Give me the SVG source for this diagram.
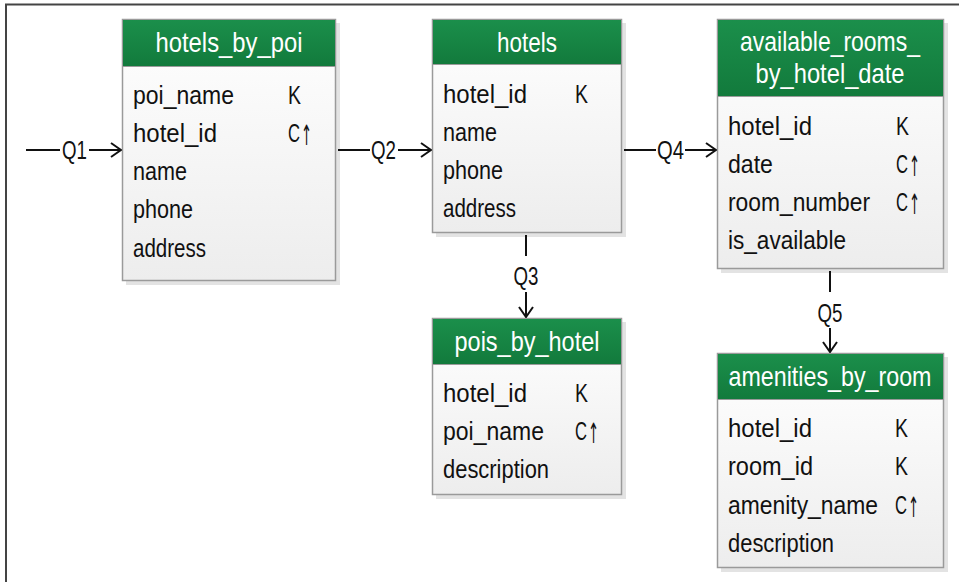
<svg xmlns="http://www.w3.org/2000/svg" width="959" height="582" viewBox="0 0 959 582">
<defs>
<linearGradient id="hdr" x1="0" y1="0" x2="0" y2="1"><stop offset="0" stop-color="#1b8f4b"/><stop offset="1" stop-color="#127a3c"/></linearGradient>
<linearGradient id="bdy" x1="0" y1="0" x2="0" y2="1"><stop offset="0" stop-color="#ffffff"/><stop offset="1" stop-color="#ededed"/></linearGradient>
<marker id="arr" viewBox="0 0 12 16" refX="11" refY="8" markerWidth="12" markerHeight="16" markerUnits="userSpaceOnUse" orient="auto"><path d="M1,1 L11,8 L1,15" fill="none" stroke="#111" stroke-width="2"/></marker>
</defs>
<style>
.sh{fill:#e3e3e3}
.bd{fill:url(#bdy);stroke:#9a9a9a;stroke-width:1.5}
.hd{fill:url(#hdr);stroke:#9a9a9a;stroke-width:1}
.tt{font-family:"Liberation Sans",Arial,sans-serif;font-size:27px;fill:#ffffff;text-anchor:middle}
.f{font-family:"Liberation Sans",Arial,sans-serif;font-size:26px;fill:#111}
.up{font-family:"DejaVu Sans","Liberation Sans",sans-serif;font-size:28px;fill:#111}
.q{font-family:"Liberation Sans",Arial,sans-serif;font-size:26px;fill:#111}
.ln{stroke:#111;stroke-width:2;fill:none}
</style>
<path d="M6,582 V4.5 H959" fill="none" stroke="#444" stroke-width="2"/>

<g id="hotels_by_poi">
<rect class="sh" x="126" y="23" width="214" height="262"/>
<rect class="bd" x="122.5" y="19.5" width="213" height="261"/>
<rect class="hd" x="122.5" y="19.5" width="213" height="47"/>
<text class="tt" transform="translate(229,52) scale(.86,1)" textLength="170.9" lengthAdjust="spacingAndGlyphs">hotels_by_poi</text>
<text class="f" transform="translate(133,104) scale(.86,1)" textLength="117.4" lengthAdjust="spacingAndGlyphs">poi_name</text>
<text class="f" transform="translate(133,142) scale(.86,1)" textLength="97.7" lengthAdjust="spacingAndGlyphs">hotel_id</text>
<text class="f" transform="translate(133,180) scale(.86,1)" textLength="62.8" lengthAdjust="spacingAndGlyphs">name</text>
<text class="f" transform="translate(133,218) scale(.86,1)" textLength="69.8" lengthAdjust="spacingAndGlyphs">phone</text>
<text class="f" transform="translate(133,257) scale(.86,1)" textLength="84.9" lengthAdjust="spacingAndGlyphs">address</text>
<text class="f" transform="translate(288,104) scale(.86,1)" textLength="15.1" lengthAdjust="spacingAndGlyphs">K</text>
<text class="f" transform="translate(288,142) scale(.64,1)">C</text>
<text class="up" transform="translate(301,145) scale(.47,1)">↑</text>
</g>

<g id="hotels">
<rect class="sh" x="436" y="23" width="190" height="214"/>
<rect class="bd" x="432.5" y="19.5" width="189" height="213"/>
<rect class="hd" x="432.5" y="19.5" width="189" height="45"/>
<text class="tt" transform="translate(527,52) scale(.86,1)" textLength="69.8" lengthAdjust="spacingAndGlyphs">hotels</text>
<text class="f" transform="translate(443,103) scale(.86,1)" textLength="97.7" lengthAdjust="spacingAndGlyphs">hotel_id</text>
<text class="f" transform="translate(443,141) scale(.86,1)" textLength="62.8" lengthAdjust="spacingAndGlyphs">name</text>
<text class="f" transform="translate(443,179) scale(.86,1)" textLength="69.8" lengthAdjust="spacingAndGlyphs">phone</text>
<text class="f" transform="translate(443,217) scale(.86,1)" textLength="84.9" lengthAdjust="spacingAndGlyphs">address</text>
<text class="f" transform="translate(575,103) scale(.86,1)" textLength="15.1" lengthAdjust="spacingAndGlyphs">K</text>
</g>

<g id="available_rooms_by_hotel_date">
<rect class="sh" x="721" y="23" width="227" height="250"/>
<rect class="bd" x="717.5" y="19.5" width="226" height="249"/>
<rect class="hd" x="717.5" y="19.5" width="226" height="77"/>
<text class="tt" transform="translate(830,51) scale(.86,1)" textLength="209.3" lengthAdjust="spacingAndGlyphs">available_rooms_</text>
<text class="tt" transform="translate(830,83) scale(.86,1)" textLength="173.3" lengthAdjust="spacingAndGlyphs">by_hotel_date</text>
<text class="f" transform="translate(728,135) scale(.86,1)" textLength="97.7" lengthAdjust="spacingAndGlyphs">hotel_id</text>
<text class="f" transform="translate(728,173) scale(.86,1)" textLength="52.3" lengthAdjust="spacingAndGlyphs">date</text>
<text class="f" transform="translate(728,211) scale(.86,1)" textLength="165.1" lengthAdjust="spacingAndGlyphs">room_number</text>
<text class="f" transform="translate(728,249) scale(.86,1)" textLength="137.2" lengthAdjust="spacingAndGlyphs">is_available</text>
<text class="f" transform="translate(896,135) scale(.86,1)" textLength="15.1" lengthAdjust="spacingAndGlyphs">K</text>
<text class="f" transform="translate(896,173) scale(.64,1)">C</text>
<text class="up" transform="translate(909,176) scale(.47,1)">↑</text>
<text class="f" transform="translate(896,211) scale(.64,1)">C</text>
<text class="up" transform="translate(909,214) scale(.47,1)">↑</text>
</g>

<g id="pois_by_hotel">
<rect class="sh" x="436" y="322" width="190" height="177"/>
<rect class="bd" x="432.5" y="318.5" width="189" height="176"/>
<rect class="hd" x="432.5" y="318.5" width="189" height="46"/>
<text class="tt" transform="translate(527,351) scale(.86,1)" textLength="168.6" lengthAdjust="spacingAndGlyphs">pois_by_hotel</text>
<text class="f" transform="translate(443,402) scale(.86,1)" textLength="97.7" lengthAdjust="spacingAndGlyphs">hotel_id</text>
<text class="f" transform="translate(443,440) scale(.86,1)" textLength="117.4" lengthAdjust="spacingAndGlyphs">poi_name</text>
<text class="f" transform="translate(443,478) scale(.86,1)" textLength="123.3" lengthAdjust="spacingAndGlyphs">description</text>
<text class="f" transform="translate(575,402) scale(.86,1)" textLength="15.1" lengthAdjust="spacingAndGlyphs">K</text>
<text class="f" transform="translate(575,440) scale(.64,1)">C</text>
<text class="up" transform="translate(588,443) scale(.47,1)">↑</text>
</g>

<g id="amenities_by_room">
<rect class="sh" x="721" y="357" width="227" height="215"/>
<rect class="bd" x="717.5" y="353.5" width="226" height="214"/>
<rect class="hd" x="717.5" y="353.5" width="226" height="46"/>
<text class="tt" transform="translate(830,386) scale(.86,1)" textLength="236" lengthAdjust="spacingAndGlyphs">amenities_by_room</text>
<text class="f" transform="translate(728,437) scale(.86,1)" textLength="97.7" lengthAdjust="spacingAndGlyphs">hotel_id</text>
<text class="f" transform="translate(728,475) scale(.86,1)" textLength="98.8" lengthAdjust="spacingAndGlyphs">room_id</text>
<text class="f" transform="translate(728,514) scale(.86,1)" textLength="174.4" lengthAdjust="spacingAndGlyphs">amenity_name</text>
<text class="f" transform="translate(728,552) scale(.86,1)" textLength="123.3" lengthAdjust="spacingAndGlyphs">description</text>
<text class="f" transform="translate(895,437) scale(.86,1)" textLength="15.1" lengthAdjust="spacingAndGlyphs">K</text>
<text class="f" transform="translate(895,475) scale(.86,1)" textLength="15.1" lengthAdjust="spacingAndGlyphs">K</text>
<text class="f" transform="translate(895,514) scale(.64,1)">C</text>
<text class="up" transform="translate(908,517) scale(.47,1)">↑</text>
</g>

<g id="connectors">
<line class="ln" x1="26" y1="150" x2="60" y2="150"/>
<text class="q" transform="translate(62,159) scale(.86,1)" textLength="29" lengthAdjust="spacingAndGlyphs">Q1</text>
<line class="ln" x1="89" y1="150" x2="121" y2="150" marker-end="url(#arr)"/>

<line class="ln" x1="338" y1="150" x2="370" y2="150"/>
<text class="q" transform="translate(371,159) scale(.86,1)" textLength="29" lengthAdjust="spacingAndGlyphs">Q2</text>
<line class="ln" x1="398" y1="150" x2="431" y2="150" marker-end="url(#arr)"/>

<line class="ln" x1="624" y1="150" x2="656" y2="150"/>
<text class="q" transform="translate(657,159) scale(.86,1)" textLength="31.4" lengthAdjust="spacingAndGlyphs">Q4</text>
<line class="ln" x1="685" y1="150" x2="716" y2="150" marker-end="url(#arr)"/>

<line class="ln" x1="526" y1="235" x2="526" y2="256"/>
<text class="q" transform="translate(526,285) scale(.86,1)" text-anchor="middle" textLength="29" lengthAdjust="spacingAndGlyphs">Q3</text>
<line class="ln" x1="526" y1="292" x2="526" y2="317" marker-end="url(#arr)"/>

<line class="ln" x1="830" y1="271" x2="830" y2="292"/>
<text class="q" transform="translate(830,322) scale(.86,1)" text-anchor="middle" textLength="29" lengthAdjust="spacingAndGlyphs">Q5</text>
<line class="ln" x1="830" y1="328" x2="830" y2="352" marker-end="url(#arr)"/>
</g>
</svg>
